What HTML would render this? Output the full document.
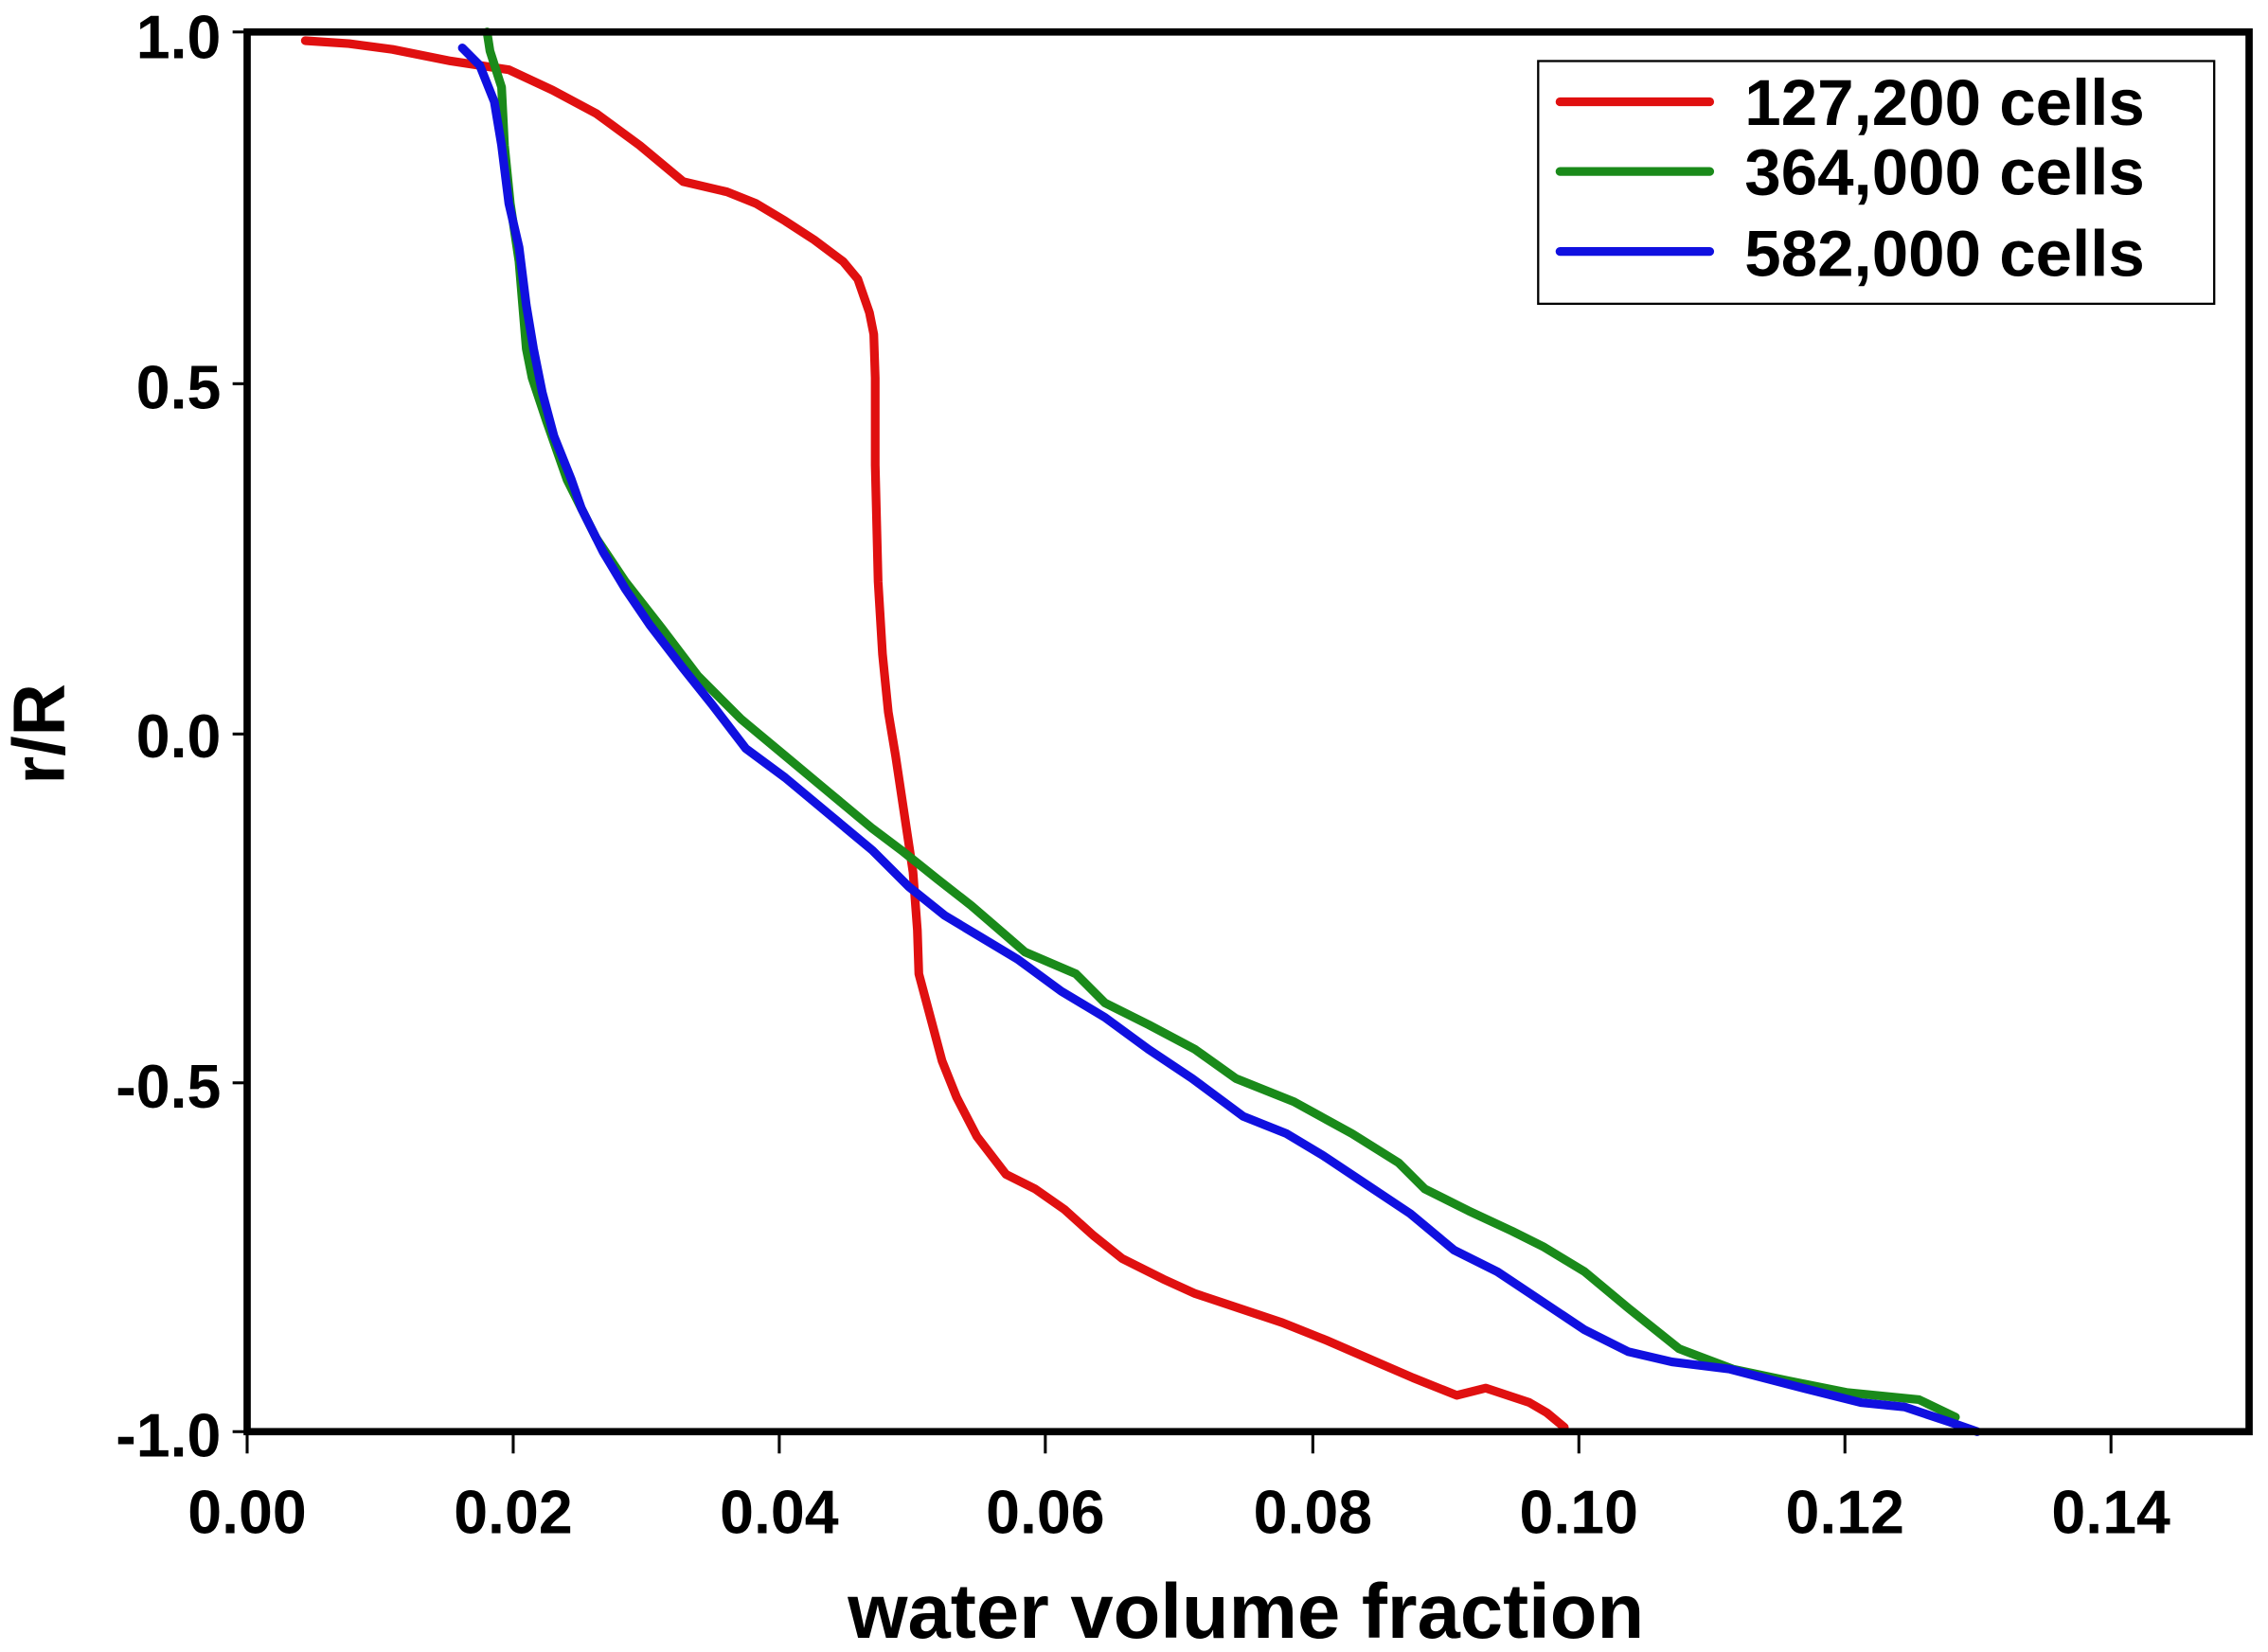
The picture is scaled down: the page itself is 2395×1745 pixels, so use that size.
<!DOCTYPE html>
<html><head><style>
html,body{margin:0;padding:0;background:#fff;}
svg{display:block;}
text{font-family:"Liberation Sans",Arial,sans-serif;font-weight:bold;fill:#000;}
</style></head><body>
<svg width="2395" height="1745" viewBox="0 0 1560 1136.6" preserveAspectRatio="none" xmlns="http://www.w3.org/2000/svg">
<rect width="1560" height="1137" fill="#fff"/>
<g stroke="#000" stroke-width="2">
<line x1="170" y1="985" x2="170" y2="1000"/><line x1="353" y1="985" x2="353" y2="1000"/><line x1="536" y1="985" x2="536" y2="1000"/><line x1="719" y1="985" x2="719" y2="1000"/><line x1="903" y1="985" x2="903" y2="1000"/><line x1="1086" y1="985" x2="1086" y2="1000"/><line x1="1269" y1="985" x2="1269" y2="1000"/><line x1="1452" y1="985" x2="1452" y2="1000"/>
<line x1="160" y1="22" x2="170" y2="22"/><line x1="160" y1="264" x2="170" y2="264"/><line x1="160" y1="505" x2="170" y2="505"/><line x1="160" y1="745" x2="170" y2="745"/><line x1="160" y1="985" x2="170" y2="985"/>
</g>
<g fill="none" stroke-width="6" stroke-linejoin="round" stroke-linecap="round">
<polyline stroke="#e01010" points="210,28 240,30 270,34 310,42 350,48 380,62 410,78 440,100 470,125 500,132 520,140 540,152 560,165 580,180 590,192 598,215 601,230 602,260 602,320 604,400 607,450 611,490 616,520 622,560 628,600 631,640 632,670 640,700 648,730 658,755 672,782 692,808 712,818 732,832 752,850 772,866 800,880 822,890 852,900 882,910 912,922 942,935 972,948 1002,960 1022,955 1052,965 1064,972 1076,982"/>
<polyline stroke="#1a8a1a" points="335,22 337,35 345,60 347,100 351,140 357,180 362,240 366,260 376,290 390,330 410,370 430,400 455,432 480,465 510,495 540,520 570,545 600,570 620,585 645,605 668,623 690,642 705,655 740,670 760,690 790,705 822,722 850,742 890,758 930,780 962,800 980,818 1010,833 1040,847 1062,858 1090,875 1120,900 1155,928 1192,942 1230,950 1270,958 1320,963 1345,975"/>
<polyline stroke="#1010e0" points="318,33 330,45 340,70 345,100 350,140 357,170 362,210 367,240 373,270 381,300 393,330 400,350 415,380 430,405 447,430 470,460 490,485 513,515 540,535 570,560 600,585 625,610 650,630 675,645 700,660 730,682 760,700 790,722 820,742 855,768 885,780 910,795 940,815 970,835 1000,860 1030,875 1060,895 1090,915 1120,930 1150,937 1190,942 1240,955 1280,965 1310,968 1340,978 1360,985"/>
</g>
<rect x="170" y="22" width="1377" height="963" fill="none" stroke="#000" stroke-width="5"/>
<rect x="1058" y="42" width="465" height="167" fill="#fff" stroke="#000" stroke-width="1.5"/>
<g stroke-width="6" stroke-linecap="round">
<line x1="1073" y1="70" x2="1176" y2="70" stroke="#e01010"/>
<line x1="1073" y1="118" x2="1176" y2="118" stroke="#1a8a1a"/>
<line x1="1073" y1="173" x2="1176" y2="173" stroke="#1010e0"/>
</g>
<g font-size="45">
<text x="1200" y="86">127,200 cells</text>
<text x="1200" y="134">364,000 cells</text>
<text x="1200" y="190">582,000 cells</text>
</g>
<g font-size="42" text-anchor="end">
<text x="152" y="40">1.0</text>
<text x="152" y="281">0.5</text>
<text x="152" y="521">0.0</text>
<text x="152" y="762">-0.5</text>
<text x="152" y="1002">-1.0</text>
</g>
<g font-size="42" text-anchor="middle">
<text x="170" y="1055">0.00</text><text x="353" y="1055">0.02</text><text x="536" y="1055">0.04</text><text x="719" y="1055">0.06</text><text x="903" y="1055">0.08</text><text x="1086" y="1055">0.10</text><text x="1269" y="1055">0.12</text><text x="1452" y="1055">0.14</text>
</g>
<text x="857" y="1127" font-size="53" text-anchor="middle">water volume fraction</text>
<text transform="translate(44,505) rotate(-90)" font-size="50" text-anchor="middle">r/R</text>
</svg>
</body></html>
